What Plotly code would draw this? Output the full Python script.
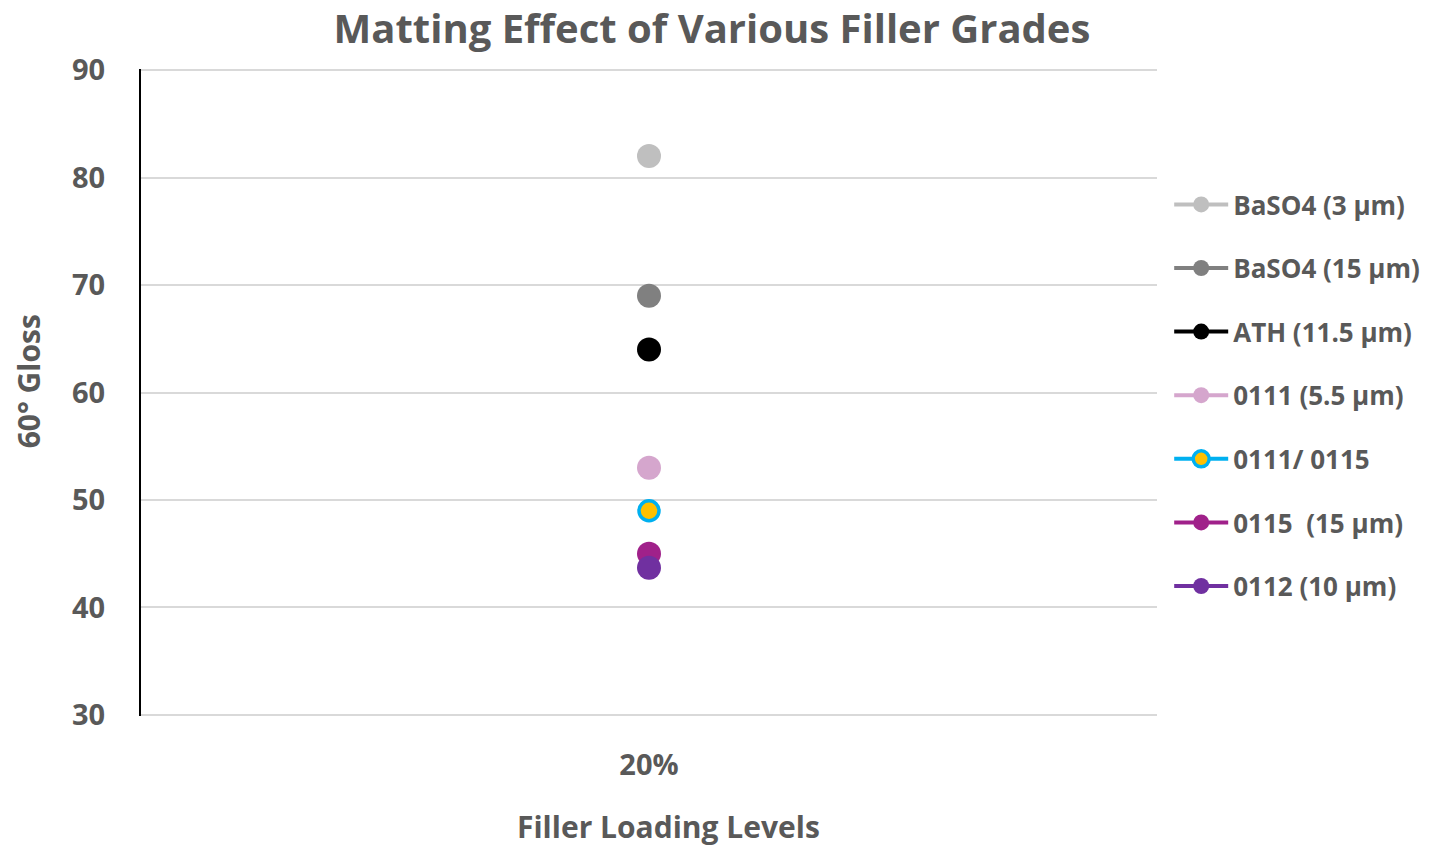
import plotly.graph_objects as go

categories = ["20%"]
series_names = ["BaSO4 (3 µm)", "BaSO4 (15 µm)", "ATH (11.5 µm)", "0111 (5.5 µm)",
                "0111/ 0115", "0115  (15 µm)", "0112 (10 µm)"]
series_values = [[82], [69], [64], [53], [49], [45], [43.7]]
fill_colors = ["#BFBFBF", "#808080", "#000000", "#D5A6CD", "#FFC000", "#A0218A", "#7030A0"]
line_colors = ["#BFBFBF", "#808080", "#000000", "#D5A6CD", "#00B0F0", "#A0218A", "#7030A0"]
y_ticks = [30, 40, 50, 60, 70, 80, 90]

FONT = "Open Sans"
GREY = "#595959"

W, H = 1437, 850
ML, MR, MT, MB = 141, 277, 69, 134
PW, PH = W - ML - MR, H - MT - MB

fig = go.Figure()
for i, (name, vals) in enumerate(zip(series_names, series_values)):
    ring = (i == 4)
    fig.add_trace(go.Scatter(
        x=categories, y=vals, name=name, mode="lines+markers",
        legendgroup=f"g{i}",
        line=dict(color=line_colors[i], width=4),
        marker=dict(size=20 if ring else 24, color=fill_colors[i],
                    line=dict(color=line_colors[i], width=3.5 if ring else 0)),
    ))

fig.update_layout(
    width=W, height=H,
    margin=dict(l=ML, r=MR, t=MT, b=MB),
    plot_bgcolor="white", paper_bgcolor="white",
    title=dict(text="Matting Effect of Various Filler Grades",
               x=712 / W, xanchor="center", y=1 - 29 / H, yanchor="middle",
               font=dict(family=FONT, size=40, color=GREY, weight="bold")),
    font=dict(family=FONT, color=GREY),
    xaxis=dict(type="category", range=[-0.5, 0.5], showgrid=False,
               showline=False, ticks="",
               tickfont=dict(family=FONT, size=29, color=GREY, weight="bold"),
               ticklabelstandoff=29),
    yaxis=dict(range=[29.9, 90.1], tickvals=y_ticks, showgrid=True,
               gridcolor="#D9D9D9", gridwidth=2, zeroline=False,
               showline=True, linecolor="#000000", linewidth=2, ticks="",
               tickfont=dict(family=FONT, size=29, color=GREY, weight="bold"),
               ticklabelstandoff=28),
    legend=dict(x=1.012, y=1 - (181 - MT) / PH, xanchor="left", yanchor="top",
                font=dict(family=FONT, size=26, color=GREY, weight="bold"),
                tracegroupgap=26.8, itemwidth=54, bgcolor="rgba(0,0,0,0)"),
    showlegend=True,
    annotations=[
        dict(text="Filler Loading Levels", xref="paper", yref="paper",
             x=(670 - ML) / PW, y=-(H - MT - PH - 1) / PH,
             xanchor="center", yanchor="bottom", showarrow=False,
             font=dict(family=FONT, size=30, color=GREY, weight="bold")),
        dict(text="60° Gloss", xref="paper", yref="paper", textangle=-90,
             x=-(ML - 28) / PW, y=(MT + PH - 381) / PH,
             xanchor="center", yanchor="middle", showarrow=False,
             font=dict(family=FONT, size=30, color=GREY, weight="bold")),
    ],
)

fig.write_html("out.html", config={"displayModeBar": False},
               post_script="document.body.style.margin='0';document.body.style.padding='0';")
